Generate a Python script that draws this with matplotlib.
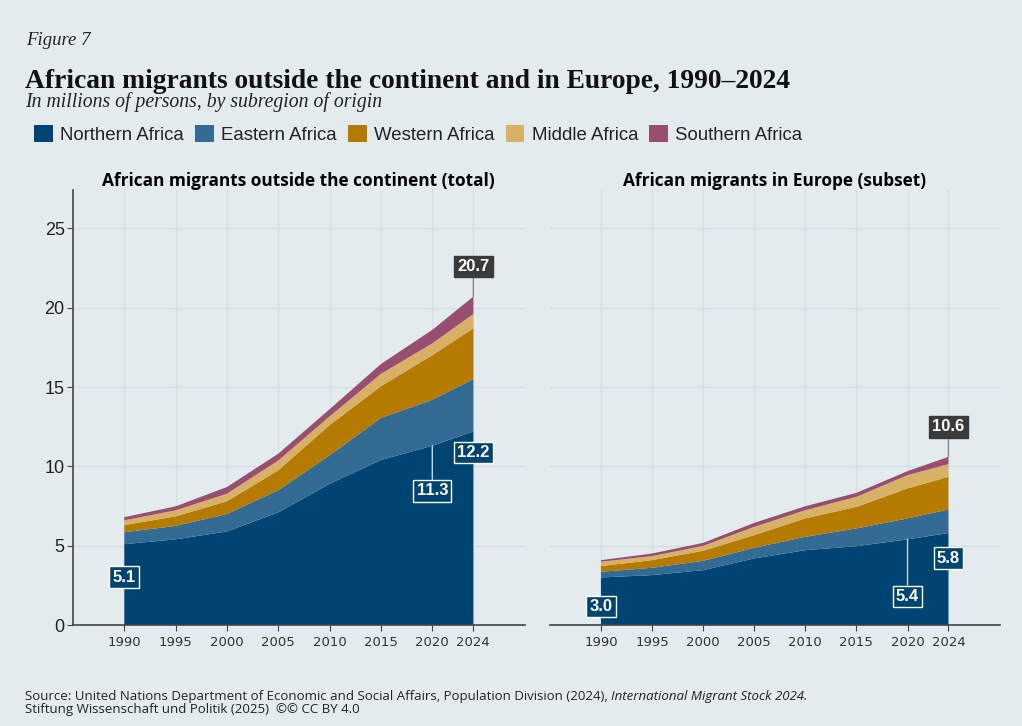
import matplotlib
matplotlib.use("Agg")
from matplotlib import pyplot as plt
from matplotlib.patches import Patch

years = [1990, 1995, 2000, 2005, 2010, 2015, 2020, 2024]
regions = ["Northern Africa", "Eastern Africa", "Western Africa",
           "Middle Africa", "Southern Africa"]
colors = ["#004473", "#346b94", "#b57b00", "#d8b066", "#984e6e"]

# outside the continent (total), millions, by layer
total_northern = [5.1, 5.4, 5.9, 7.1, 8.9, 10.4, 11.3, 12.2]
total_eastern = [0.75, 0.85, 1.1, 1.4, 1.8, 2.65, 2.9, 3.3]
total_western = [0.45, 0.6, 0.8, 1.25, 1.9, 2.0, 2.8, 3.2]
total_middle = [0.3, 0.38, 0.48, 0.62, 0.55, 0.78, 0.75, 0.9]
total_southern = [0.2, 0.25, 0.42, 0.43, 0.45, 0.62, 0.85, 1.1]

# in Europe (subset)
europe_northern = [3.0, 3.15, 3.46, 4.2, 4.72, 4.97, 5.4, 5.8]
europe_eastern = [0.36, 0.46, 0.59, 0.67, 0.84, 1.12, 1.32, 1.48]
europe_western = [0.36, 0.48, 0.63, 0.8, 1.16, 1.36, 1.89, 2.06]
europe_middle = [0.27, 0.26, 0.31, 0.52, 0.52, 0.63, 0.84, 0.8]
europe_southern = [0.1, 0.16, 0.19, 0.25, 0.25, 0.25, 0.25, 0.46]

bg = "#e3ebef"
grid_c = "#d3dde2"

fig = plt.figure(figsize=(10.22, 7.26), dpi=100, facecolor=bg)
ax1 = fig.add_axes([0.0714, 0.139, 0.442, 0.599])
ax2 = fig.add_axes([0.538, 0.139, 0.440, 0.599], sharey=ax1)


def draw_panel(ax, layers, title, labels):
    ax.set_facecolor(bg)
    ax.stackplot(years, *layers, colors=colors, lw=0, zorder=2)
    ax.set_xlim(1985, 2029)
    ax.set_ylim(0, 27.4)
    ax.set_xticks(years)
    ax.set_yticks([0, 5, 10, 15, 20, 25])
    ax.grid(True, color=grid_c, lw=0.9, zorder=0)
    for s in ["top", "right"]:
        ax.spines[s].set_visible(False)
    ax.spines["bottom"].set_color("#444")
    ax.spines["bottom"].set_linewidth(1.2)
    ax.spines["bottom"].set_zorder(3)
    ax.tick_params(axis="x", labelsize=9.5, labelcolor="#333", color="#444",
                   length=4, pad=4)
    ax.set_title(title, fontsize=12.4, fontweight="bold", family="Open Sans",
                 pad=2)
    for val, year, dy, face, line in labels:
        ax.annotate(f"{val:.1f}", xy=(year, val), xytext=(0, dy),
                    textcoords="offset pixels", ha="center", va="center",
                    color="white", fontsize=12, fontweight="bold",
                    family="Liberation Sans", zorder=5,
                    bbox=dict(boxstyle="square,pad=0.2", fc=face,
                              ec="white" if face != "#3a3a3a" else face, lw=1),
                    arrowprops=dict(arrowstyle="-", color=line, lw=1,
                                    shrinkA=0, shrinkB=0) if line else None)


total_layers = [total_northern, total_eastern, total_western, total_middle,
                total_southern]
europe_layers = [europe_northern, europe_eastern, europe_western,
                 europe_middle, europe_southern]

draw_panel(ax1, total_layers,
           "African migrants outside the continent (total)",
           [(total_northern[0], 1990, -33, "#004473", None),
            (total_northern[6], 2020, -45, "#004473", "#c9d6df"),
            (total_northern[7], 2024, -21, "#004473", None),
            (sum(v[7] for v in total_layers), 2024, 30, "#3a3a3a", "#888")])
draw_panel(ax2, europe_layers,
           "African migrants in Europe (subset)",
           [(europe_northern[0], 1990, -29, "#004473", None),
            (europe_northern[6], 2020, -57, "#004473", "#c9d6df"),
            (europe_northern[7], 2024, -25, "#004473", None),
            (sum(v[7] for v in europe_layers), 2024, 30, "#3a3a3a", "#888")])

ax1.spines["left"].set_color("#444")
ax1.spines["left"].set_linewidth(1.2)
ax1.tick_params(axis="y", labelsize=13, labelcolor="#222", color="#444",
                length=4, pad=2)
for lab in ax1.get_yticklabels():
    lab.set_family("Liberation Sans")
ax2.spines["left"].set_visible(False)
ax2.tick_params(axis="y", left=False, labelleft=False)

fig.text(0.026, 0.938, "Figure 7", fontsize=13.5, style="italic",
         family="Liberation Serif", color="#222")
fig.text(0.024, 0.879, "African migrants outside the continent and in Europe, 1990\u20132024",
         fontsize=19.8, fontweight="bold", family="Liberation Serif", color="#111")
fig.text(0.025, 0.853, "In millions of persons, by subregion of origin",
         fontsize=14.2, style="italic", family="Liberation Serif", color="#222")

handles = [Patch(fc=c, ec="none") for c in colors]
leg = fig.legend(handles, regions, loc="center left",
                 bbox_to_anchor=(0.017, 0.815), ncol=5, frameon=False,
                 handlelength=1.0, handleheight=1.0, handletextpad=0.4,
                 columnspacing=0.6, prop={"family": "Liberation Sans", "size": 13.4})
for t in leg.get_texts():
    t.set_color("#222")

fig.text(0.024, 0.036,
         "Source: United Nations Department of Economic and Social Affairs, "
         "Population Division (2024), ",
         fontsize=9.55, family="Open Sans", color="#222")
fig.text(0.024, 0.018, "Stiftung Wissenschaft und Politik (2025)  \u00a9\u00a9 CC BY 4.0",
         fontsize=9.55, family="Open Sans", color="#222")

fig.canvas.draw()
src = fig.texts[-2]
bb = src.get_window_extent()
x_end = bb.x1 / fig.bbox.width
fig.text(x_end, 0.036, "International Migrant Stock 2024.", fontsize=9.55,
         style="italic", family="Open Sans", color="#222")

fig.savefig("out.png", dpi=100, facecolor=bg)
